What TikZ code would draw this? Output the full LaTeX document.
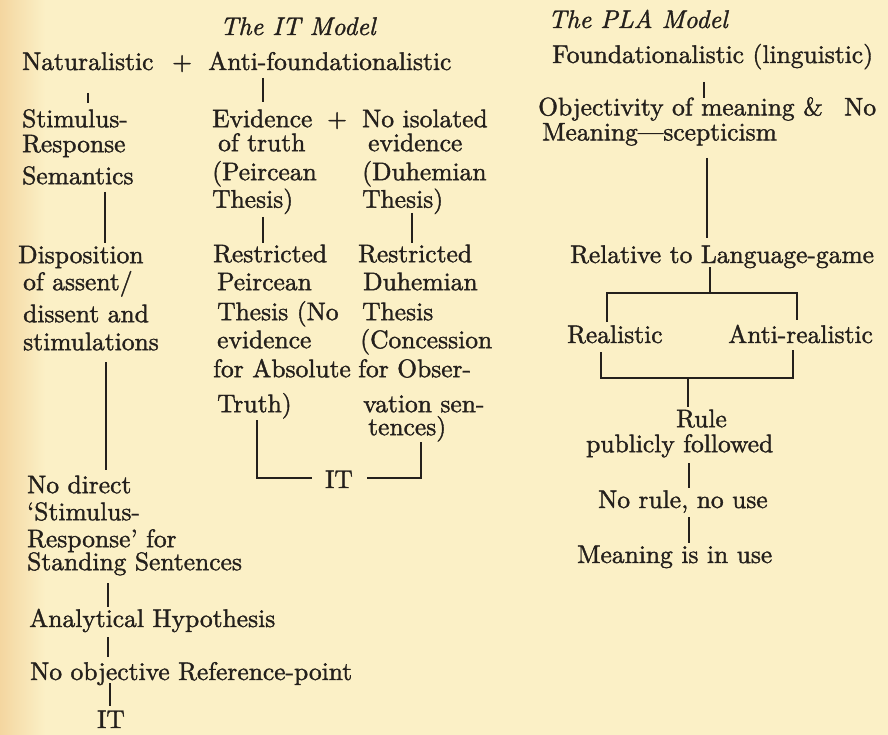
\documentclass[tikz,border=0pt]{standalone}
\usepackage{fontspec}
\setmainfont{lmroman10-regular}[Extension=.otf, ItalicFont=lmroman10-italic, BoldFont=lmroman10-bold, RawFeature={embolden=1.4}]
\definecolor{ink}{RGB}{36,32,28}
\definecolor{paper}{RGB}{251,240,198}
\definecolor{paperedge}{RGB}{244,214,160}
\newcommand{\tp}{\rule{0pt}{18pt}}
\newcommand{\fsz}[1]{\fontsize{25.5}{#1}\selectfont}
\tikzset{
  txt/.style={inner sep=0pt, anchor=base west, text=ink, font=\fsz{28}},
  blk/.style={inner sep=0pt, anchor=north west, align=left, text=ink},
  ttl/.style={inner sep=0pt, anchor=base west, text=ink, font=\fsz{28}\itshape},
  conn/.style={draw=ink, line width=1.1pt}
}
\begin{document}
\begin{tikzpicture}[x=1pt,y=-1pt]
\useasboundingbox (0,0) rectangle (888,735);
\fill[paper] (0,0) rectangle (888,735);
\shade[left color=paperedge, right color=paper] (0,0) rectangle (45,735);

% ---------- IT model ----------
\node[ttl] (title1) at (220,35) {The IT Model};
\node[txt] (nat) at (22,70) {Naturalistic};
\node[txt] (plus1) at (172,70) {+};
\node[txt] (anti) at (208,70) {Anti-foundationalistic};

\node[blk, font=\fsz{25}] (stim) at (22,109) {\tp Stimulus-\\Response\\[7pt]Semantics};
\node[blk, font=\fsz{27}] (disp) at (18,245) {\tp Disposition\\\hspace*{5pt}of assent/\\[5pt]\hspace*{5pt}dissent and\\[1pt]\hspace*{5pt}stimulations};
\node[blk, font=\fsz{23}] (nodir) at (27,475) {\tp No direct\\[4pt]‘Stimulus-\\[4pt]Response’ for\\Standing Sentences};
\node[txt] (anal) at (29,627) {Analytical Hypothesis};
\node[txt] (noobj) at (30,680) {No objective Reference-point};
\node[txt] (it1) at (97,728) {IT};

\node[blk, font=\fsz{24}] (evid) at (212,109) {\tp Evidence\\\hspace*{6pt}of truth\\[5pt](Peircean\\[1pt]Thesis)};
\node[txt] (plus2) at (327,127) {+};
\node[blk, font=\fsz{24}] (noiso) at (362,109) {\tp No isolated\\\hspace*{6pt}evidence\\[5pt](Duhemian\\[1pt]Thesis)};

\node[blk, font=\fsz{28}] (rpeir) at (213,244) {\tp Restricted\\\hspace*{4pt}Peircean\\[2pt]\hspace*{4pt}Thesis (No\\\hspace*{4pt}evidence\\[1pt]for Absolute\\[7pt]\hspace*{4pt}Truth)};
\node[blk, font=\fsz{28}] (rduh) at (358,244) {\tp Restricted\\\hspace*{5pt}Duhemian\\[2pt]\hspace*{4pt}Thesis\\\hspace*{2pt}(Concession\\[1pt]for Obser-\\[7pt]\hspace*{5pt}vation sen-\\[-5pt]\hspace*{10pt}tences)};
\node[txt] (itm) at (325,488) {IT};

% connectors, IT model
\coordinate (a1) at (88,93);   \coordinate (a2) at (88,103);
\draw[conn] (a1) -- (a2);
\coordinate (b1) at (263,78);  \coordinate (b2) at (263,102);
\draw[conn] (b1) -- (b2);
\coordinate (c1) at (105,192); \coordinate (c2) at (105,243);
\draw[conn] (c1) -- (c2);
\coordinate (d1) at (263,217); \coordinate (d2) at (263,243);
\draw[conn] (d1) -- (d2);
\coordinate (e1) at (412,213); \coordinate (e2) at (412,243);
\draw[conn] (e1) -- (e2);
\coordinate (f1) at (106,362); \coordinate (f2) at (106,470);
\draw[conn] (f1) -- (f2);
\coordinate (g1) at (108,583); \coordinate (g2) at (108,607);
\draw[conn] (g1) -- (g2);
\coordinate (h1) at (108,637); \coordinate (h2) at (108,657);
\draw[conn] (h1) -- (h2);
\coordinate (i1) at (110,683); \coordinate (i2) at (110,706);
\draw[conn] (i1) -- (i2);
\coordinate (j1) at (257,420); \coordinate (j2) at (312,478);
\draw[conn] (j1) |- (j2);
\coordinate (k1) at (367,478); \coordinate (k2) at (421,442);
\draw[conn] (k1) -| (k2);

% ---------- PLA model ----------
\node[ttl] (title2) at (548,28) {The PLA Model};
\node[txt] (found) at (552,63) {Foundationalistic (linguistic)};
\node[blk, font=\fsz{25}] (obj) at (538,97) {\tp Objectivity of meaning \&\hspace{0.5em} No\\\hspace*{4pt}Meaning—scepticism};
\node[txt] (rel) at (570,263) {Relative to Language-game};
\node[txt] (real) at (567,343) {Realistic};
\node[txt] (anreal) at (728,343) {Anti-realistic};
\node[blk, font=\fsz{25}] (rule) at (586,409) {\tp\hspace*{90pt}Rule\\publicly followed};
\node[txt] (norule) at (598,508) {No rule, no use};
\node[txt] (mean) at (577,563) {Meaning is in use};

\coordinate (m1) at (704,82);  \coordinate (m2) at (704,98);
\draw[conn] (m1) -- (m2);
\coordinate (n1) at (707,158); \coordinate (n2) at (707,238);
\draw[conn] (n1) -- (n2);
\coordinate (o1) at (710,267); \coordinate (o2) at (710,293);
\draw[conn] (o1) -- (o2);
\coordinate (p1) at (607,322); \coordinate (p2) at (797,320);
\draw[conn] (p1) |- (o2) -| (p2);
\coordinate (q1) at (601,352); \coordinate (q2) at (793,350);
\coordinate (q3) at (688,378);
\draw[conn] (q1) |- (q3) -| (q2);
\coordinate (r1) at (688,407);
\draw[conn] (q3) -- (r1);
\coordinate (s1) at (689,463); \coordinate (s2) at (689,488);
\draw[conn] (s1) -- (s2);
\coordinate (t1) at (689,517); \coordinate (t2) at (689,543);
\draw[conn] (t1) -- (t2);
\end{tikzpicture}
\end{document}
